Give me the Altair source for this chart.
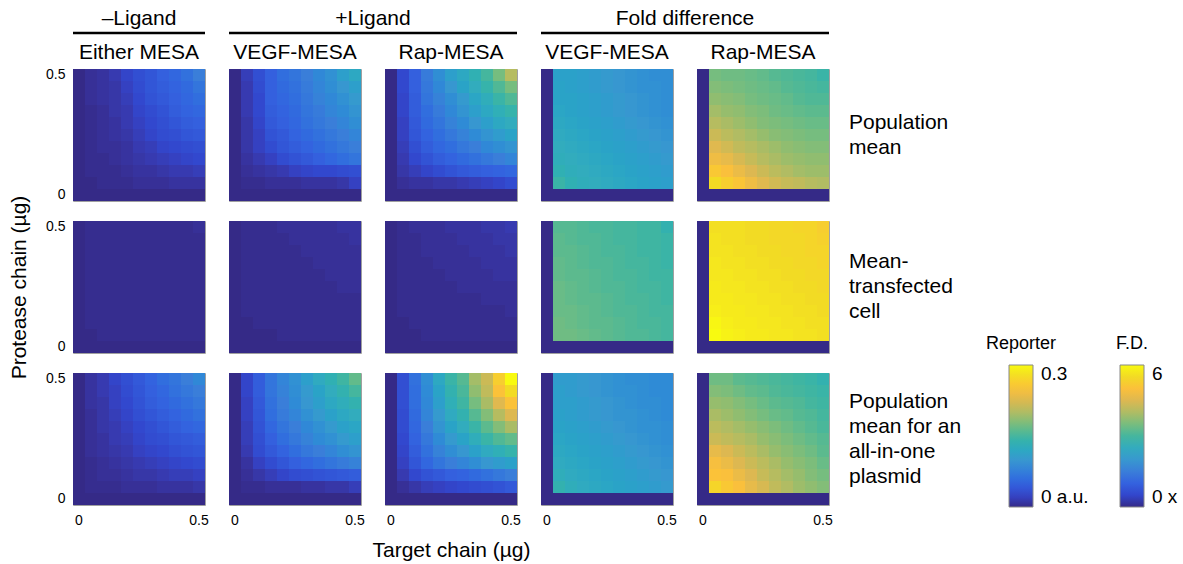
import altair as alt
import pandas as pd

# ---------------- data ----------------
TARGET_UG = [0.0, 0.05, 0.1, 0.15, 0.2, 0.25, 0.3, 0.35, 0.4, 0.45, 0.5]
# matrix rows run from the top of each panel (protease 0.5 ug) to the bottom (0 ug)
PROTEASE_UG = [0.5, 0.45, 0.4, 0.35, 0.3, 0.25, 0.2, 0.15, 0.1, 0.05, 0.0]

COL_TITLES = ["Either MESA", "VEGF-MESA", "Rap-MESA", "VEGF-MESA", "Rap-MESA"]
COL_KIND = ["rep", "rep", "rep", "fd", "fd"]
GROUP_TITLES = ["\u2013Ligand", "+Ligand", "Fold difference"]
GROUP_START_COL = [0, 1, 3]
GROUP_SPAN = [1, 2, 2]
ROW_LABELS = ["Population\nmean", "Mean-\ntransfected\ncell",
              "Population\nmean for an\nall-in-one\nplasmid"]

# reporter panels: values in 10^-3 a.u.
POP_NEG = [
    [0, 6, 9, 15, 24, 33, 39, 48, 54, 63, 75],
    [0, 6, 9, 12, 21, 30, 39, 45, 51, 57, 66],
    [0, 6, 9, 12, 18, 27, 36, 42, 48, 54, 60],
    [0, 3, 6, 12, 15, 24, 30, 36, 45, 51, 54],
    [0, 3, 6, 9, 15, 21, 27, 33, 39, 45, 48],
    [0, 3, 6, 9, 12, 18, 24, 30, 33, 39, 42],
    [0, 3, 6, 6, 9, 15, 18, 24, 27, 30, 33],
    [0, 3, 3, 6, 9, 12, 15, 18, 21, 24, 27],
    [0, 3, 3, 3, 6, 9, 9, 12, 15, 15, 18],
    [0, 0, 3, 3, 3, 6, 6, 6, 9, 9, 9],
    [0, 0, 0, 0, 0, 0, 0, 0, 0, 0, 0],
]
POP_VEGF = [
    [0, 18, 33, 48, 60, 66, 75, 84, 93, 108, 120],
    [0, 15, 30, 48, 57, 63, 72, 81, 90, 99, 108],
    [0, 15, 27, 48, 54, 60, 69, 78, 84, 93, 102],
    [0, 15, 27, 45, 51, 57, 66, 72, 81, 87, 96],
    [0, 12, 24, 42, 48, 54, 63, 69, 75, 81, 90],
    [0, 12, 21, 36, 42, 51, 57, 63, 69, 75, 81],
    [0, 12, 21, 30, 39, 45, 51, 57, 63, 69, 75],
    [0, 9, 15, 21, 30, 36, 42, 48, 54, 60, 66],
    [0, 6, 9, 12, 15, 21, 24, 27, 27, 30, 33],
    [0, 3, 3, 6, 6, 6, 9, 9, 9, 12, 21],
    [0, 0, 0, 0, 0, 0, 0, 0, 0, 0, 0],
]
POP_RAP = [
    [0, 27, 48, 72, 90, 108, 120, 135, 150, 174, 204],
    [0, 27, 48, 69, 84, 99, 114, 126, 141, 156, 174],
    [0, 24, 45, 66, 78, 90, 102, 117, 129, 144, 156],
    [0, 24, 45, 60, 72, 84, 96, 108, 120, 132, 141],
    [0, 21, 42, 57, 66, 78, 87, 99, 108, 120, 126],
    [0, 21, 39, 51, 60, 69, 78, 87, 96, 105, 114],
    [0, 18, 33, 45, 54, 60, 69, 75, 84, 90, 96],
    [0, 15, 27, 36, 45, 51, 57, 63, 69, 75, 81],
    [0, 12, 18, 24, 30, 36, 42, 45, 48, 51, 54],
    [0, 6, 9, 9, 12, 12, 15, 18, 21, 24, 30],
    [0, 0, 0, 0, 0, 0, 0, 0, 0, 0, 0],
]
MTC_NEG = [
    [0, 3, 3, 3, 3, 3, 3, 3, 3, 3, 6],
    [0, 3, 3, 3, 3, 3, 3, 3, 3, 3, 3],
    [0, 3, 3, 3, 3, 3, 3, 3, 3, 3, 3],
    [0, 3, 3, 3, 3, 3, 3, 3, 3, 3, 3],
    [0, 3, 3, 3, 3, 3, 3, 3, 3, 3, 3],
    [0, 3, 3, 3, 3, 3, 3, 3, 3, 3, 3],
    [0, 3, 3, 3, 3, 3, 3, 3, 3, 3, 3],
    [0, 3, 3, 3, 3, 3, 3, 3, 3, 3, 3],
    [0, 3, 3, 3, 3, 3, 3, 3, 3, 3, 3],
    [0, 0, 3, 3, 3, 3, 3, 3, 3, 3, 3],
    [0, 0, 0, 0, 0, 0, 0, 0, 0, 0, 0],
]
MTC_VEGF = [
    [0, 3, 3, 3, 6, 6, 6, 6, 6, 9, 9],
    [0, 3, 3, 3, 3, 6, 6, 6, 6, 6, 9],
    [0, 3, 3, 3, 3, 3, 6, 6, 6, 6, 6],
    [0, 3, 3, 3, 3, 3, 3, 6, 6, 6, 6],
    [0, 3, 3, 3, 3, 3, 3, 3, 6, 6, 6],
    [0, 3, 3, 3, 3, 3, 3, 3, 3, 6, 6],
    [0, 3, 3, 3, 3, 3, 3, 3, 3, 3, 3],
    [0, 3, 3, 3, 3, 3, 3, 3, 3, 3, 3],
    [0, 0, 3, 3, 3, 3, 3, 3, 3, 3, 3],
    [0, 0, 0, 0, 3, 3, 3, 3, 3, 3, 3],
    [0, 0, 0, 0, 0, 0, 0, 0, 0, 0, 0],
]
MTC_RAP = [
    [0, 3, 6, 6, 6, 9, 9, 9, 12, 12, 15],
    [0, 3, 3, 6, 6, 6, 9, 9, 9, 12, 12],
    [0, 3, 3, 6, 6, 6, 6, 9, 9, 9, 12],
    [0, 3, 3, 3, 6, 6, 6, 6, 9, 9, 9],
    [0, 3, 3, 3, 3, 6, 6, 6, 6, 9, 9],
    [0, 3, 3, 3, 3, 3, 6, 6, 6, 6, 6],
    [0, 3, 3, 3, 3, 3, 3, 3, 6, 6, 6],
    [0, 3, 3, 3, 3, 3, 3, 3, 3, 3, 6],
    [0, 0, 3, 3, 3, 3, 3, 3, 3, 3, 3],
    [0, 0, 0, 3, 3, 3, 3, 3, 3, 3, 3],
    [0, 0, 0, 0, 0, 0, 0, 0, 0, 0, 0],
]
AIO_NEG = [
    [0, 9, 15, 24, 33, 42, 51, 60, 66, 75, 84],
    [0, 9, 15, 21, 30, 39, 48, 54, 63, 69, 75],
    [0, 9, 12, 21, 27, 36, 45, 51, 57, 63, 69],
    [0, 6, 12, 18, 24, 33, 39, 45, 51, 57, 63],
    [0, 6, 12, 15, 21, 27, 33, 39, 45, 51, 54],
    [0, 6, 9, 15, 18, 24, 30, 33, 39, 42, 45],
    [0, 6, 9, 12, 15, 21, 24, 27, 33, 36, 39],
    [0, 3, 6, 9, 12, 15, 18, 21, 24, 27, 30],
    [0, 3, 6, 6, 9, 12, 12, 15, 18, 18, 21],
    [0, 3, 3, 3, 6, 6, 6, 9, 9, 9, 12],
    [0, 0, 0, 0, 0, 0, 0, 0, 0, 0, 0],
]
AIO_VEGF = [
    [0, 24, 45, 66, 81, 93, 108, 123, 135, 147, 165],
    [0, 24, 45, 66, 78, 90, 102, 114, 126, 138, 150],
    [0, 21, 42, 63, 75, 87, 99, 108, 120, 129, 138],
    [0, 21, 39, 60, 72, 81, 93, 102, 111, 120, 126],
    [0, 18, 36, 54, 66, 75, 84, 93, 102, 111, 117],
    [0, 18, 33, 48, 60, 69, 78, 87, 93, 102, 108],
    [0, 15, 30, 42, 51, 60, 69, 75, 81, 90, 96],
    [0, 9, 21, 30, 39, 48, 54, 60, 66, 72, 78],
    [0, 6, 12, 18, 24, 30, 33, 36, 39, 42, 45],
    [0, 3, 3, 6, 6, 6, 9, 9, 12, 12, 18],
    [0, 0, 0, 0, 0, 0, 0, 0, 0, 0, 0],
]
AIO_RAP = [
    [0, 33, 63, 90, 120, 144, 159, 195, 216, 264, 300],
    [0, 33, 60, 87, 114, 138, 153, 186, 210, 252, 276],
    [0, 33, 60, 84, 108, 132, 147, 174, 198, 228, 252],
    [0, 30, 57, 81, 102, 123, 138, 159, 180, 204, 225],
    [0, 30, 54, 75, 96, 114, 126, 144, 162, 180, 198],
    [0, 27, 51, 69, 87, 102, 114, 129, 144, 156, 165],
    [0, 24, 45, 63, 78, 90, 99, 111, 123, 132, 141],
    [0, 21, 39, 54, 66, 75, 81, 90, 99, 105, 111],
    [0, 15, 27, 36, 42, 48, 51, 57, 63, 69, 75],
    [0, 6, 12, 18, 21, 24, 27, 30, 33, 36, 42],
    [0, 0, 0, 0, 0, 0, 0, 0, 0, 0, 0],
]

# fold-difference panels: values in x (fold)
POP_FD_VEGF = [
    [0, 2.22, 2.22, 2.16, 2.10, 2.04, 1.98, 1.92, 1.86, 1.80, 1.80],
    [0, 2.28, 2.22, 2.16, 2.10, 2.04, 1.98, 1.92, 1.86, 1.86, 1.80],
    [0, 2.28, 2.28, 2.22, 2.16, 2.10, 2.04, 1.98, 1.92, 1.86, 1.80],
    [0, 2.34, 2.28, 2.22, 2.16, 2.10, 2.04, 1.98, 1.92, 1.86, 1.80],
    [0, 2.40, 2.34, 2.28, 2.22, 2.16, 2.10, 2.04, 1.98, 1.92, 1.86],
    [0, 2.46, 2.40, 2.34, 2.28, 2.22, 2.16, 2.10, 2.04, 1.98, 1.92],
    [0, 2.52, 2.46, 2.40, 2.34, 2.28, 2.22, 2.16, 2.10, 2.04, 1.98],
    [0, 2.58, 2.52, 2.46, 2.40, 2.34, 2.28, 2.22, 2.16, 2.10, 2.04],
    [0, 2.70, 2.58, 2.52, 2.46, 2.40, 2.34, 2.28, 2.22, 2.16, 2.10],
    [0, 2.88, 2.70, 2.58, 2.52, 2.46, 2.40, 2.34, 2.28, 2.22, 2.16],
    [0, 0, 0, 0, 0, 0, 0, 0, 0, 0, 0],
]
POP_FD_RAP = [
    [0, 3.48, 3.42, 3.42, 3.36, 3.30, 3.18, 3.12, 3.06, 3.00, 2.88],
    [0, 3.60, 3.54, 3.48, 3.42, 3.36, 3.30, 3.18, 3.12, 3.06, 3.00],
    [0, 3.72, 3.66, 3.60, 3.48, 3.42, 3.36, 3.30, 3.18, 3.12, 3.12],
    [0, 3.90, 3.78, 3.72, 3.60, 3.54, 3.42, 3.36, 3.30, 3.24, 3.24],
    [0, 4.08, 3.96, 3.84, 3.72, 3.60, 3.54, 3.48, 3.42, 3.36, 3.36],
    [0, 4.32, 4.14, 4.02, 3.90, 3.78, 3.66, 3.60, 3.54, 3.48, 3.48],
    [0, 4.56, 4.38, 4.20, 4.08, 3.96, 3.84, 3.72, 3.66, 3.60, 3.60],
    [0, 4.80, 4.68, 4.44, 4.26, 4.08, 3.96, 3.84, 3.78, 3.72, 3.72],
    [0, 5.16, 4.98, 4.74, 4.50, 4.32, 4.14, 4.02, 3.90, 3.84, 3.84],
    [0, 5.52, 5.28, 5.10, 4.80, 4.56, 4.38, 4.26, 4.20, 4.08, 4.02],
    [0, 0, 0, 0, 0, 0, 0, 0, 0, 0, 0],
]
MTC_FD_VEGF = [
    [0, 3.18, 3.18, 3.12, 3.06, 3.06, 3.00, 3.00, 2.94, 2.94, 2.76],
    [0, 3.24, 3.18, 3.12, 3.12, 3.06, 3.00, 3.00, 2.94, 2.94, 2.88],
    [0, 3.24, 3.24, 3.18, 3.12, 3.06, 3.06, 3.00, 2.94, 2.94, 2.88],
    [0, 3.30, 3.24, 3.18, 3.12, 3.12, 3.06, 3.00, 3.00, 2.94, 2.88],
    [0, 3.30, 3.24, 3.24, 3.18, 3.12, 3.06, 3.06, 3.00, 2.94, 2.94],
    [0, 3.36, 3.30, 3.24, 3.18, 3.12, 3.12, 3.06, 3.00, 3.00, 2.94],
    [0, 3.36, 3.30, 3.24, 3.24, 3.18, 3.12, 3.06, 3.06, 3.00, 2.94],
    [0, 3.36, 3.36, 3.30, 3.24, 3.18, 3.12, 3.12, 3.06, 3.00, 3.00],
    [0, 3.42, 3.36, 3.30, 3.24, 3.24, 3.18, 3.12, 3.06, 3.06, 3.00],
    [0, 3.42, 3.42, 3.36, 3.30, 3.24, 3.18, 3.12, 3.12, 3.06, 3.00],
    [0, 0, 0, 0, 0, 0, 0, 0, 0, 0, 0],
]
MTC_FD_RAP = [
    [0, 5.58, 5.58, 5.58, 5.52, 5.52, 5.46, 5.46, 5.40, 5.40, 5.28],
    [0, 5.64, 5.58, 5.58, 5.52, 5.52, 5.46, 5.46, 5.46, 5.40, 5.34],
    [0, 5.64, 5.64, 5.58, 5.58, 5.52, 5.52, 5.46, 5.46, 5.40, 5.40],
    [0, 5.70, 5.64, 5.64, 5.58, 5.58, 5.52, 5.52, 5.46, 5.46, 5.40],
    [0, 5.70, 5.70, 5.64, 5.64, 5.58, 5.58, 5.52, 5.52, 5.46, 5.46],
    [0, 5.76, 5.70, 5.70, 5.64, 5.64, 5.58, 5.58, 5.52, 5.52, 5.46],
    [0, 5.76, 5.76, 5.70, 5.70, 5.64, 5.64, 5.58, 5.58, 5.52, 5.52],
    [0, 5.82, 5.76, 5.76, 5.70, 5.70, 5.64, 5.64, 5.58, 5.58, 5.52],
    [0, 5.94, 5.82, 5.76, 5.76, 5.70, 5.70, 5.64, 5.64, 5.58, 5.58],
    [0, 6.00, 5.88, 5.82, 5.76, 5.76, 5.70, 5.70, 5.64, 5.64, 5.58],
    [0, 0, 0, 0, 0, 0, 0, 0, 0, 0, 0],
]
AIO_FD_VEGF = [
    [0, 2.10, 2.10, 2.04, 1.98, 1.92, 1.86, 1.80, 1.80, 1.74, 1.74],
    [0, 2.16, 2.10, 2.04, 1.98, 1.92, 1.86, 1.86, 1.80, 1.74, 1.74],
    [0, 2.16, 2.16, 2.10, 2.04, 1.98, 1.92, 1.86, 1.80, 1.80, 1.74],
    [0, 2.22, 2.16, 2.10, 2.04, 1.98, 1.92, 1.92, 1.86, 1.80, 1.74],
    [0, 2.28, 2.22, 2.16, 2.10, 2.04, 1.98, 1.92, 1.86, 1.86, 1.80],
    [0, 2.34, 2.28, 2.22, 2.16, 2.10, 2.04, 1.98, 1.92, 1.86, 1.80],
    [0, 2.40, 2.34, 2.28, 2.22, 2.16, 2.10, 2.04, 1.98, 1.92, 1.86],
    [0, 2.46, 2.40, 2.34, 2.28, 2.22, 2.16, 2.10, 2.04, 1.98, 1.92],
    [0, 2.58, 2.46, 2.40, 2.34, 2.28, 2.22, 2.16, 2.10, 2.04, 1.98],
    [0, 2.76, 2.58, 2.46, 2.40, 2.34, 2.28, 2.22, 2.16, 2.10, 2.04],
    [0, 0, 0, 0, 0, 0, 0, 0, 0, 0, 0],
]
AIO_FD_RAP = [
    [0, 3.42, 3.42, 3.24, 3.18, 3.12, 3.06, 3.00, 2.94, 2.88, 2.76],
    [0, 3.60, 3.54, 3.42, 3.30, 3.24, 3.12, 3.06, 3.00, 2.94, 2.88],
    [0, 3.78, 3.72, 3.60, 3.48, 3.36, 3.24, 3.18, 3.12, 3.00, 2.94],
    [0, 3.96, 3.84, 3.72, 3.60, 3.48, 3.36, 3.30, 3.18, 3.12, 3.00],
    [0, 4.14, 4.02, 3.90, 3.78, 3.66, 3.54, 3.42, 3.30, 3.18, 3.06],
    [0, 4.32, 4.20, 4.08, 3.96, 3.78, 3.66, 3.54, 3.42, 3.30, 3.18],
    [0, 4.68, 4.50, 4.32, 4.14, 3.96, 3.78, 3.66, 3.54, 3.42, 3.24],
    [0, 4.92, 4.74, 4.50, 4.32, 4.14, 3.96, 3.78, 3.66, 3.54, 3.36],
    [0, 5.04, 4.98, 4.74, 4.50, 4.26, 4.08, 3.90, 3.78, 3.60, 3.48],
    [0, 5.40, 5.16, 4.98, 4.68, 4.44, 4.20, 4.02, 3.84, 3.72, 3.60],
    [0, 0, 0, 0, 0, 0, 0, 0, 0, 0, 0],
]

GRID = [
    [POP_NEG, POP_VEGF, POP_RAP, POP_FD_VEGF, POP_FD_RAP],
    [MTC_NEG, MTC_VEGF, MTC_RAP, MTC_FD_VEGF, MTC_FD_RAP],
    [AIO_NEG, AIO_VEGF, AIO_RAP, AIO_FD_VEGF, AIO_FD_RAP],
]
REPORTER_UNIT = 0.001  # matrices above are in 10^-3 a.u.
REPORTER_MAX = 0.3
FD_MAX = 6

# ---------------- style ----------------
PARULA = ["#352a87", "#3246cc", "#3462df", "#3a7ed9", "#3898cf", "#33abbe",
          "#45b69e", "#78bd7e", "#afbc64", "#ddb851", "#fbc03b", "#f2da25",
          "#f8fa10"]
FONT = "Liberation Sans"
PANEL = 132
HGAP = 24
VGAP = 20
BIG = 21
LINE_H = 25
LEG_Y = 296
REP_LEG_X = 936
FD_LEG_X = 1047
GRAD_W = 24

REP_LEGEND = alt.Legend(
    orient="none", legendX=REP_LEG_X, legendY=LEG_Y, direction="vertical",
    gradientLength=142, gradientThickness=GRAD_W, values=[0, 0.3],
    labelExpr="datum.value < 0.15 ? '0 a.u.' : '0.3'",
    labelFontSize=19, labelOffset=8, labelFont=FONT, labelColor="black",
    gradientStrokeColor="#888888", gradientStrokeWidth=1, title=None, padding=0)
FD_LEGEND = alt.Legend(
    orient="none", legendX=FD_LEG_X, legendY=LEG_Y, direction="vertical",
    gradientLength=142, gradientThickness=GRAD_W, values=[0, 6],
    labelExpr="datum.value < 3 ? '0 x' : '6'",
    labelFontSize=19, labelOffset=8, labelFont=FONT, labelColor="black",
    gradientStrokeColor="#888888", gradientStrokeWidth=1, title=None, padding=0)


def text_layer(txt, x, y, size=BIG, align="center", baseline="alphabetic"):
    return alt.Chart(pd.DataFrame({"t": [txt]})).mark_text(
        font=FONT, fontSize=size, align=align, baseline=baseline, color="black",
        lineBreak="\n", lineHeight=LINE_H,
    ).encode(text="t:N", x=alt.value(x), y=alt.value(y))


def rule_layer(x1, x2, y):
    return alt.Chart(pd.DataFrame({"r": [0]})).mark_rule(
        color="black", strokeWidth=2.5
    ).encode(x=alt.value(x1), x2=alt.value(x2), y=alt.value(y))


def panel(r, c):
    mat = GRID[r][c]
    kind = COL_KIND[c]
    unit = REPORTER_UNIT if kind == "rep" else 1.0
    recs = []
    for i, p in enumerate(PROTEASE_UG):
        for j, t in enumerate(TARGET_UG):
            recs.append({"target": t, "protease": p, "value": mat[i][j] * unit})
    df = pd.DataFrame(recs)

    if r == 2:
        xkw = dict(values=[0.0, 0.5], ticks=False, domain=False, labelAngle=0,
                   labelFontSize=14, labelPadding=8, labelFont=FONT, labelColor="black")
        if c == 2:
            xkw.update(title="Target chain (\u00b5g)", titleFontSize=BIG, titleFont=FONT,
                       titleFontWeight="normal", titlePadding=12, titleColor="black")
        else:
            xkw.update(title=None)
        xaxis = alt.Axis(**xkw)
    else:
        xaxis = None
    if c == 0:
        ykw = dict(values=[0.0, 0.5], ticks=False, domain=False,
                   labelFontSize=14, labelPadding=8, labelFont=FONT, labelColor="black")
        if r == 1:
            ykw.update(title="Protease chain (\u00b5g)", titleFontSize=BIG, titleFont=FONT,
                       titleFontWeight="normal", titlePadding=16, titleColor="black")
        else:
            ykw.update(title=None)
        yaxis = alt.Axis(**ykw)
    else:
        yaxis = None

    heat = alt.Chart(df).mark_rect().encode(
        x=alt.X("target:O", scale=alt.Scale(paddingInner=0, paddingOuter=0), axis=xaxis),
        y=alt.Y("protease:O", sort="descending",
                scale=alt.Scale(paddingInner=0, paddingOuter=0), axis=yaxis),
    )
    if kind == "rep":
        heat = heat.encode(color=alt.Color(
            "value:Q", scale=alt.Scale(domain=[0, REPORTER_MAX], range=PARULA, clamp=True),
            legend=REP_LEGEND))
    else:
        heat = heat.encode(fill=alt.Fill(
            "value:Q", scale=alt.Scale(domain=[0, FD_MAX], range=PARULA, clamp=True),
            legend=FD_LEGEND))

    layers = [heat]
    if r == 0:
        layers.append(text_layer(COL_TITLES[c], PANEL / 2, -10))
        if c in GROUP_START_COL:
            g = GROUP_START_COL.index(c)
            span = GROUP_SPAN[g] * PANEL + (GROUP_SPAN[g] - 1) * HGAP
            layers.append(text_layer(GROUP_TITLES[g], span / 2, -44))
            layers.append(rule_layer(0, span, -36))
    if c == 4:
        n_lines = ROW_LABELS[r].count("\n") + 1
        layers.append(text_layer(ROW_LABELS[r], PANEL + 20,
                                 PANEL / 2 - (n_lines - 1) * LINE_H / 2,
                                 align="left", baseline="middle"))
    if r == 2 and c == 4:
        c5_left = 4 * (PANEL + HGAP)
        layers.append(text_layer("Reporter", REP_LEG_X + GRAD_W / 2 - c5_left, -24, size=18))
        layers.append(text_layer("F.D.", FD_LEG_X + GRAD_W / 2 - c5_left, -24, size=18))
    return alt.layer(*layers).properties(width=PANEL, height=PANEL)


panels = [panel(r, c) for r in range(3) for c in range(5)]

chart = alt.concat(
    *panels, columns=5, spacing={"row": VGAP, "column": HGAP}, bounds="flush"
).configure(
    font=FONT, padding={"left": 8, "top": 7, "right": 5, "bottom": 5}
).configure_view(stroke="#a0a0a0", strokeWidth=1)

chart.save("out.html", embed_options={"renderer": "svg", "actions": False})
